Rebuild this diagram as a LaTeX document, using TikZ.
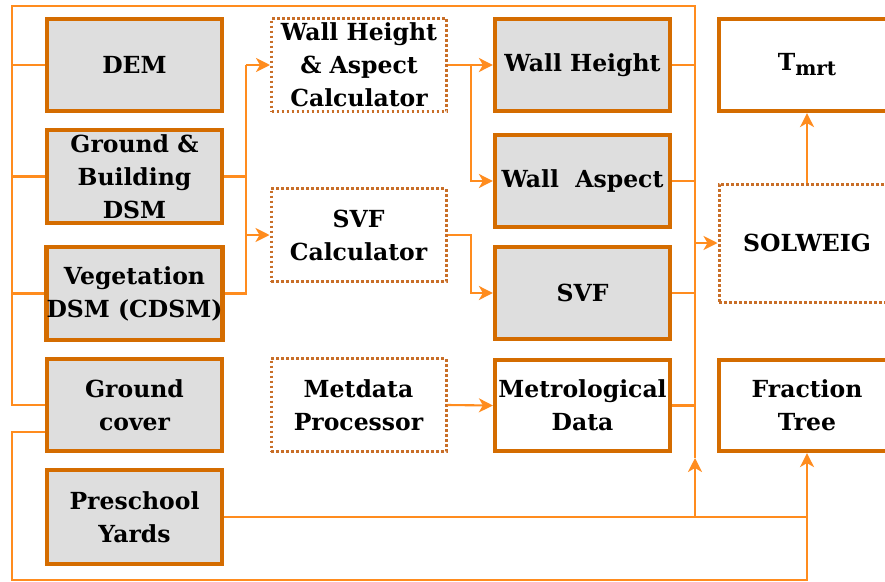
\documentclass[tikz,border=0pt]{standalone}
\usepackage{fontspec}
\setmainfont{DejaVu Serif}
\usetikzlibrary{arrows.meta}
\definecolor{boxline}{RGB}{212,108,0}
\definecolor{dotline}{RGB}{200,110,40}
\definecolor{conline}{RGB}{255,140,30}
\definecolor{boxfill}{RGB}{222,222,222}
\tikzset{
  base/.style={minimum width=175pt, align=center, font=\fontsize{23.5}{33}\selectfont\bfseries, inner sep=0pt},
  graybox/.style={base, draw=boxline, line width=4.2pt, fill=boxfill},
  whitebox/.style={base, draw=boxline, line width=4.2pt, fill=white},
  dotbox/.style={base, draw=dotline, line width=3pt, dash pattern=on 2.6pt off 2.4pt, fill=white},
  conn/.style={draw=conline, line width=2.1pt},
  arr/.style={conn, -{Stealth[length=14pt,width=14pt,inset=4pt]}}
}
\begin{document}
\begin{tikzpicture}[x=1pt,y=-1pt]
\clip (0,0) rectangle (885,581);
\fill[white] (0,0) rectangle (885,581);
% left column
\node[graybox, minimum height=92pt] (dem) at (134.5,65) {DEM};
\node[graybox, minimum height=93pt] (gb) at (134.5,176.5) {Ground \&\\Building\\DSM};
\node[graybox, minimum height=93pt] (veg) at (134.5,293.5) {Vegetation\\DSM (CDSM)};
\node[graybox, minimum height=92pt] (gc) at (134.5,405) {Ground\\cover};
\node[graybox, minimum height=94pt] (psy) at (134.5,517) {Preschool\\Yards};
% calculators
\node[dotbox, minimum height=93pt] (whac) at (359,65) {Wall Height\\\& Aspect\\Calculator};
\node[dotbox, minimum height=93pt] (svfc) at (358.5,235) {SVF\\Calculator};
\node[dotbox, minimum height=93pt] (metp) at (358.5,405) {Metdata\\Processor};
% products
\node[graybox, minimum height=92pt] (wh) at (582.5,65) {Wall Height};
\node[graybox, minimum height=92pt] (wa) at (582.5,181) {Wall~~Aspect};
\node[graybox, minimum height=92pt] (svf) at (582.5,293) {SVF};
\node[whitebox, minimum height=91pt] (md) at (582.5,405.5) {Metrological\\Data};
% right
\node[whitebox, minimum width=176pt, minimum height=92pt] (tmrt) at (807,65) {T\raisebox{-5pt}{\fontsize{20}{20}\selectfont mrt}};
\node[dotbox, minimum width=176pt, minimum height=118pt] (sol) at (807,243) {SOLWEIG};
\node[whitebox, minimum width=176pt, minimum height=91pt] (ft) at (807,405.5) {Fraction\\Tree};
% coordinates
\coordinate (tl) at (12,6);
\coordinate (tr) at (695,6);
\coordinate (bl) at (12,580);
\coordinate (lbus) at (246,65);
\coordinate (mbus) at (471,65);
\coordinate (busend) at (695,458);
% left bus
\draw[conn] (gc.west) -| (tl) -- (tr) -- (busend);
\draw[conn] (dem.west) -- (tl |- dem.west);
\draw[conn] (gb.west) -- (tl |- gb.west);
\draw[conn] (veg.west) -- (tl |- veg.west);
% inputs to calculators
\draw[conn] (gb.east) -- (lbus |- gb.east);
\draw[conn] (veg.east) -- (lbus |- veg.east) -- (lbus);
\draw[arr] (lbus) -- (whac.west);
\draw[arr] (lbus |- svfc.west) -- (svfc.west);
% calculators to products
\draw[arr] (whac.east) -- (wh.west);
\draw[arr] (mbus) |- (wa.west);
\draw[arr] (svfc.east) -- (mbus |- svfc.east) |- (svf.west);
\draw[arr] (metp.east) -- (md.west);
% products to bus
\draw[conn] (wh.east) -- (tr |- wh.east);
\draw[conn] (wa.east) -- (tr |- wa.east);
\draw[conn] (svf.east) -- (tr |- svf.east);
\draw[conn] (md.east) -- (tr |- md.east);
\draw[arr] (tr |- sol.west) -- (sol.west);
\draw[arr] (sol.north) -- (tmrt.south);
% preschool yards
\draw[conn] (psy.east) -- (ft.south |- psy.east);
\draw[arr] (tr |- psy.east) -- (busend);
% ground cover to fraction tree
\draw[arr] ([yshift=-27pt]gc.west) -| (bl) -| (ft.south);
\end{tikzpicture}
\end{document}
